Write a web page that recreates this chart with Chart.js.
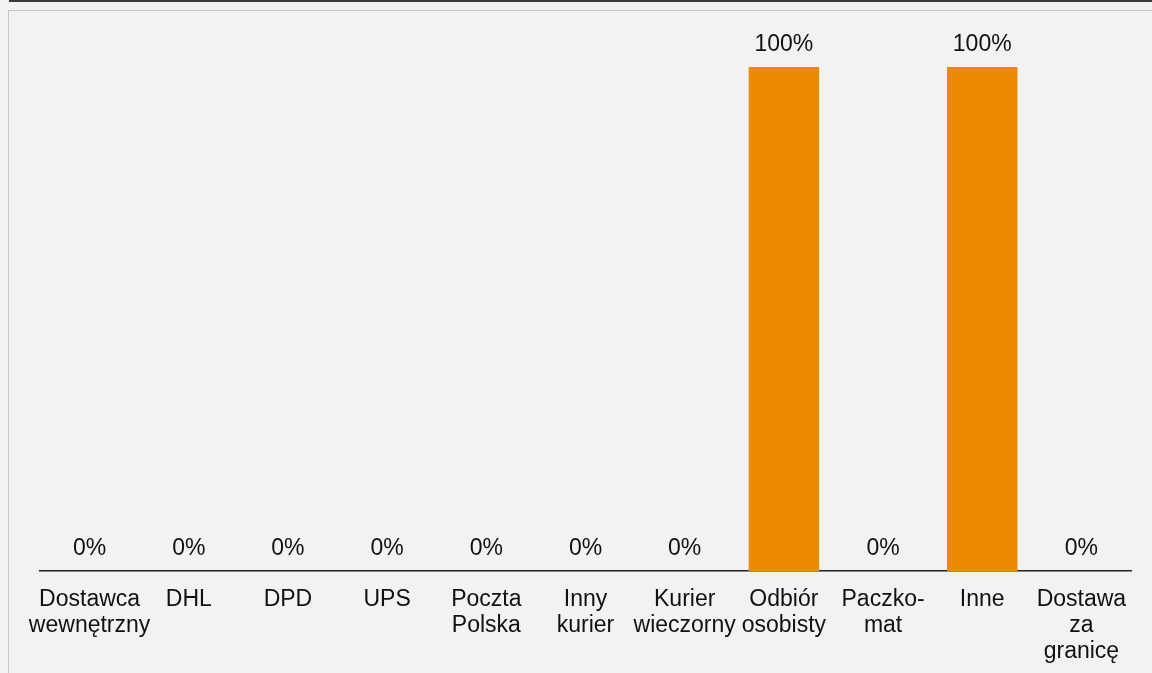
<!DOCTYPE html>
<html lang="pl">
<head>
  <meta charset="UTF-8" />
  <title>Sposób dostawy</title>
  <script src="https://cdn.jsdelivr.net/npm/chart.js"></script>
  <style>
    html, body { margin: 0; padding: 0; background: #f2f2f2; overflow: hidden; }
    .topline { position: absolute; left: 9px; right: 0; top: 0; height: 2px; background: #3a3a3a; }
    .frame   { position: absolute; left: 8px; top: 10px; width: 1200px; height: 700px;
               border-left: 1px solid #c6c6c6; border-top: 1px solid #c6c6c6; }
    #chart   { position: absolute; left: 0; top: 0; }
  </style>
</head>
<body>
  <div class="topline"></div>
  <div class="frame"></div>
  <!-- płótno nieco wyższe niż okno: dół osi X wychodzi poza kadr -->
  <canvas id="chart" width="1152" height="681"></canvas>
  <script>
    // kategorie (wielowierszowe etykiety)
    const labels = [
      ['Dostawca', 'wewnętrzny'], 'DHL', 'DPD', 'UPS', ['Poczta', 'Polska'],
      ['Inny', 'kurier'], ['Kurier', 'wieczorny'], ['Odbiór', 'osobisty'],
      ['Paczko-', 'mat'], 'Inne', ['Dostawa', 'za', 'granicę']
    ];
    // udział w %
    const values = [0, 0, 0, 0, 0, 0, 0, 100, 0, 100, 0];

    const FONT = '"Liberation Sans", Arial, sans-serif';

    // etykiety wartości nad słupkami
    const valueLabels = {
      id: 'valueLabels',
      afterDatasetsDraw(chart) {
        const ctx = chart.ctx;
        const meta = chart.getDatasetMeta(0);
        ctx.save();
        ctx.font = '23px ' + FONT;
        ctx.fillStyle = '#111';
        ctx.textAlign = 'center';
        ctx.textBaseline = 'alphabetic';
        meta.data.forEach((bar, i) => {
          ctx.fillText(values[i] + '%', bar.x, bar.y - 16);
        });
        ctx.restore();
      }
    };

    new Chart(document.getElementById('chart').getContext('2d'), {
      type: 'bar',
      data: {
        labels: labels,
        datasets: [{
          data: values,
          backgroundColor: '#ed8b00',
          barPercentage: 0.71,
          categoryPercentage: 1
        }]
      },
      options: {
        responsive: false,
        animation: false,
        layout: { padding: { left: 40, right: 21, top: 67, bottom: 0 } },
        plugins: { legend: { display: false }, tooltip: { enabled: false } },
        scales: {
          y: { display: false, min: 0, max: 100 },
          x: {
            grid: { display: false, drawTicks: false },
            border: { display: true, color: '#222', width: 1.5 },
            ticks: {
              autoSkip: false, maxRotation: 0, padding: 16,
              color: '#111',
              font: { family: FONT, size: 23, lineHeight: 1.13 }
            }
          }
        }
      },
      plugins: [valueLabels]
    });
  </script>
</body>
</html>
